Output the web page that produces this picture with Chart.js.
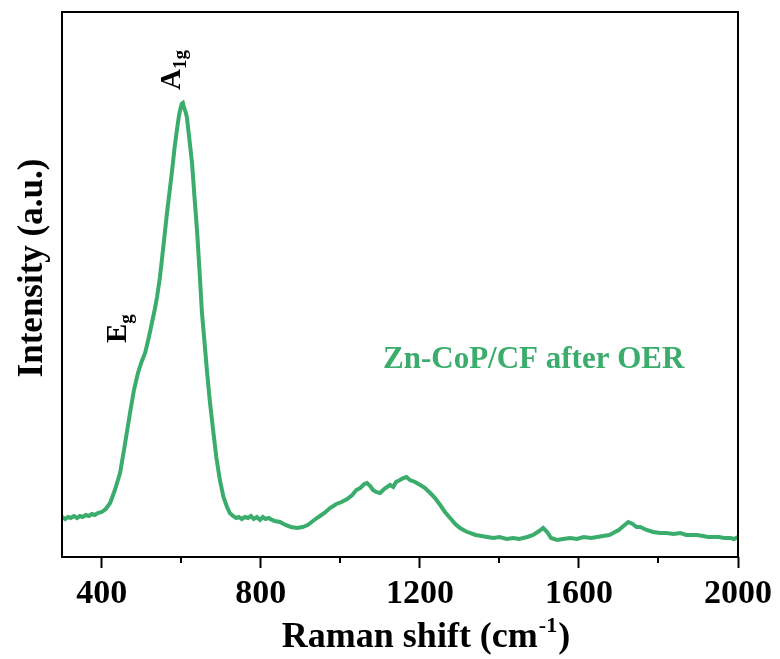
<!DOCTYPE html>
<html>
<head>
<meta charset="utf-8">
<script src="https://cdn.jsdelivr.net/npm/chart.js@4.4.1/dist/chart.umd.min.js"></script>
<style>
html,body{margin:0;padding:0;background:#fff;}
#wrap{width:780px;height:659px;}
</style>
</head>
<body>
<div id="wrap"><canvas id="c" width="780" height="659"></canvas></div>
<script>
const ramanShift = [300,308,315,322,330,338,345,352,360,368,375,382,390,400,410,421,433,446,458,471,481,491,500,509,518,526,533,539,546,552,558,564,571,577,583,589,594,597,601,604,607,611,614,620,627,633,640,646,652,659,665,672,680,688,697,706,715,722,730,738,745,752,760,768,775,782,790,798,805,812,820,828,835,848,862,876,891,905,918,931,945,960,974,990,1003,1017,1030,1040,1050,1060,1067,1075,1082,1090,1100,1110,1125,1133,1140,1150,1158,1166,1175,1188,1201,1213,1226,1238,1251,1263,1276,1289,1301,1314,1326,1340,1355,1369,1385,1400,1418,1435,1450,1470,1485,1500,1510,1520,1530,1545,1560,1578,1595,1612,1630,1646,1660,1676,1686,1700,1712,1724,1735,1745,1754,1770,1787,1804,1820,1838,1855,1870,1885,1897,1912,1925,1938,1952,1965,1981,1990,2000];
const intensity = [40,38,40,39,41,39,41,40,42,41,43,42,44,45,48,54,67,84,112,144,167,184,195,204,219,234,247,260,279,300,322,344,367,387,409,427,441,447,453,454,449,445,440,419,394,361,324,285,244,212,184,155,127,100,77,60,50,44,41,39,40,38,40,39,41,38,40,37,40,38,39,37,36,35,32,30,29,30,32,36,40,44,49,53,55,58,62,67,69,73,74,71,67,65,64,68,72,70,75,77,79,80,77,75,72,69,64,59,52,45,39,33,29,26,24,22,21,20,19,20,18,19,18,20,22,26,29,25,19,17,18,19,18,20,19,20,21,22,24,27,31,35,33,30,30,27,25,24,24,23,24,22,22,22,21,20,20,20,19,19,18,20];
const xTicks = [400,800,1200,1600,2000];
const xMinorTicks = [600,1000,1400,1800];
const seriesLabel = 'Zn-CoP/CF after OER';
const peakLabels = [{main:'A', sub:'1g', x:597, y:467}, {main:'E', sub:'g', x:462, y:214}];

const GREEN = '#3aac6c';
const SERIF = '"Liberation Serif","Times New Roman",serif';

const overlay = {
  id:'overlay',
  afterDraw(chart){
    const {ctx, chartArea:a, scales:{x,y}} = chart;
    ctx.save();
    ctx.strokeStyle='#000'; ctx.lineWidth=2;
    ctx.strokeRect(a.left, a.top, a.right-a.left, a.bottom-a.top);
    ctx.beginPath();
    xMinorTicks.forEach(v=>{const px=Math.round(x.getPixelForValue(v)); ctx.moveTo(px, a.bottom); ctx.lineTo(px, a.bottom+6);});
    ctx.stroke();
    peakLabels.forEach(p=>{
      const px = x.getPixelForValue(p.x), py = y.getPixelForValue(p.y);
      ctx.save();
      ctx.translate(px, py);
      ctx.rotate(-Math.PI/2);
      ctx.fillStyle='#000';
      ctx.textBaseline='alphabetic'; ctx.textAlign='left';
      ctx.font='bold 29px '+SERIF;
      ctx.fillText(p.main, 0, 0);
      const w = ctx.measureText(p.main).width;
      ctx.font='bold 19px '+SERIF;
      ctx.fillText(p.sub, w, 6);
      ctx.restore();
    });
    ctx.fillStyle=GREEN;
    ctx.font='bold 31px '+SERIF;
    ctx.textAlign='left'; ctx.textBaseline='alphabetic';
    ctx.fillText(seriesLabel, 383, 368);
    ctx.save();
    ctx.translate(42, 268);
    ctx.rotate(-Math.PI/2);
    ctx.fillStyle='#000';
    ctx.font='bold 35px '+SERIF;
    ctx.textAlign='center'; ctx.textBaseline='alphabetic';
    ctx.fillText('Intensity (a.u.)', 0, 0);
    ctx.restore();
    ctx.fillStyle='#000';
    ctx.textAlign='left'; ctx.textBaseline='alphabetic';
    const big='bold 36px '+SERIF, small='bold 22px '+SERIF;
    const t1='Raman shift (cm', t2='-1', t3=')';
    ctx.font=big; const w1=ctx.measureText(t1).width;
    ctx.font=small; const w2=ctx.measureText(t2).width;
    ctx.font=big; const w3=ctx.measureText(t3).width;
    let sx = 425 - (w1+w2+w3)/2;
    ctx.font=big; ctx.fillText(t1, sx, 647);
    ctx.font=small; ctx.fillText(t2, sx+w1+1, 632);
    ctx.font=big; ctx.fillText(t3, sx+w1+w2+2, 647);
    ctx.restore();
  }
};

new Chart(document.getElementById('c'), {
  type:'line',
  data:{
    datasets:[{
      label:seriesLabel,
      data: ramanShift.map((v,i)=>({x:v, y:intensity[i]})),
      borderColor:GREEN,
      borderWidth:4,
      pointRadius:0,
      tension:0,
      fill:false
    }]
  },
  options:{
    responsive:false,
    animation:false,
    layout:{padding:{top:12,right:42,left:0,bottom:0}},
    plugins:{legend:{display:false}, tooltip:{enabled:false}},
    scales:{
      x:{
        type:'linear', min:300, max:2000,
        afterBuildTicks(s){ s.ticks = xTicks.map(v=>({value:v})); },
        afterFit(s){ s.height = 102; },
        grid:{drawOnChartArea:false, drawTicks:true, tickLength:11, tickWidth:2, tickColor:'#000', color:'#000'},
        border:{display:false},
        ticks:{color:'#000', font:{family:SERIF, size:34, weight:'bold'}, padding:6, maxRotation:0, autoSkip:false,
               callback:(v)=>String(v)}
      },
      y:{
        min:0, max:545,
        afterFit(s){ s.width = 62; },
        grid:{display:false},
        border:{display:false},
        ticks:{display:false}
      }
    }
  },
  plugins:[overlay]
});
</script>
</body>
</html>
